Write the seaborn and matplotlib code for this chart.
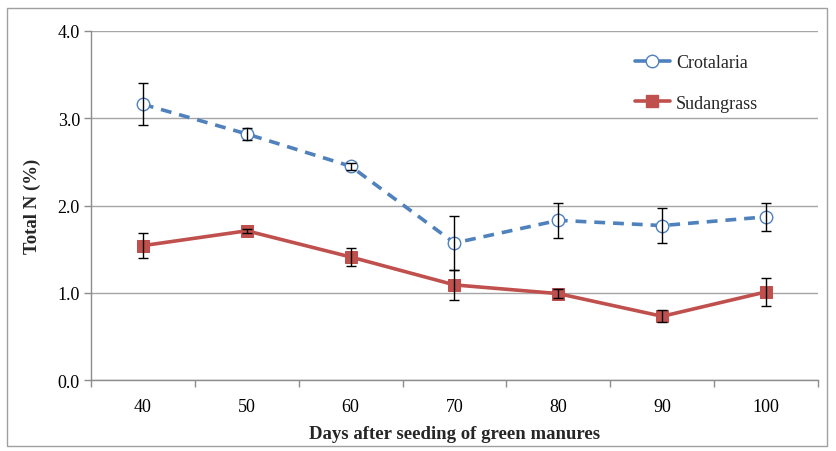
import matplotlib
matplotlib.use("Agg")
import matplotlib.pyplot as plt
import seaborn as sns
import pandas as pd
import numpy as np
from matplotlib.patches import Rectangle
from matplotlib.lines import Line2D

days = ["40", "50", "60", "70", "80", "90", "100"]
crotalaria = [3.16, 2.82, 2.45, 1.57, 1.83, 1.77, 1.87]
crotalaria_err = [0.24, 0.07, 0.04, 0.31, 0.20, 0.20, 0.16]
sudangrass = [1.54, 1.71, 1.41, 1.09, 0.99, 0.73, 1.01]
sudangrass_err = [0.14, 0.02, 0.10, 0.17, 0.05, 0.07, 0.16]

sns.set_theme(style="white")
plt.rcParams['font.family'] = ['Liberation Serif', 'DejaVu Serif']

blue = "#4F81BD"
red = "#C0504D"

pos = np.arange(len(days))
df = pd.DataFrame({
    "pos": np.concatenate([pos, pos]),
    "val": crotalaria + sudangrass,
    "series": ["Crotalaria"] * len(days) + ["Sudangrass"] * len(days),
})

fig = plt.figure(figsize=(8.37, 4.52), dpi=100)
ax = fig.add_axes([91/837, 1-381/452, (818-91)/837, (381-32)/452])

sns.lineplot(data=df[df.series == "Crotalaria"], x="pos", y="val", ax=ax,
             color=blue, linewidth=2.6, linestyle=(0, (3, 2.2)),
             marker="o", markersize=9, markerfacecolor="white",
             markeredgecolor=blue, markeredgewidth=1.0, legend=False, zorder=3)
sns.lineplot(data=df[df.series == "Sudangrass"], x="pos", y="val", ax=ax,
             color=red, linewidth=2.6,
             marker="s", markersize=8, markerfacecolor=red,
             markeredgecolor=red, legend=False, zorder=3)

ax.errorbar(pos, crotalaria, yerr=crotalaria_err, fmt="none", ecolor="black",
            elinewidth=1.0, capsize=3.5, capthick=1.0, zorder=4)
ax.errorbar(pos, sudangrass, yerr=sudangrass_err, fmt="none", ecolor="black",
            elinewidth=1.0, capsize=3.5, capthick=1.0, zorder=4)

ax.set_xlim(-0.5, len(days) - 0.5)
ax.set_ylim(0, 4.0)
ax.set_yticks([0, 1, 2, 3, 4])
ax.set_yticklabels(["0.0", "1.0", "2.0", "3.0", "4.0"], fontsize=13)
ax.set_xticks(pos)
ax.set_xticklabels(days, fontsize=13)
ax.set_xticks(np.arange(-0.5, len(days)), minor=True)
ax.tick_params(axis="x", which="major", length=0, pad=13)
ax.tick_params(axis="x", which="minor", length=5, color="#8c8c8c", width=1, direction="out", bottom=True)
ax.tick_params(axis="y", length=5, color="#8c8c8c", width=1, direction="out", left=True, pad=3)
for lab in ax.get_xticklabels() + ax.get_yticklabels():
    lab.set_color("black")

ax.grid(axis="y", color="#a6a6a6", linewidth=1.0)
ax.grid(axis="x", visible=False)
ax.set_axisbelow(True)
for s in ["top", "right"]:
    ax.spines[s].set_visible(False)
for s in ["left", "bottom"]:
    ax.spines[s].set_color("#8c8c8c")
    ax.spines[s].set_linewidth(1.0)

ax.set_xlabel("Days after seeding of green manures", fontsize=13.5, fontweight="bold", labelpad=7)
ax.set_ylabel("Total N (%)", fontsize=13.5, fontweight="bold", labelpad=12)

handles = [
    Line2D([], [], color=blue, linewidth=2.6, marker="o", markersize=9,
           markerfacecolor="white", markeredgecolor=blue, markeredgewidth=1.0),
    Line2D([], [], color=red, linewidth=2.6, marker="s", markersize=8,
           markerfacecolor=red, markeredgecolor=red),
]
leg = ax.legend(handles, ["Crotalaria", "Sudangrass"], loc="upper left",
                bbox_to_anchor=((619-91)/727, 1-(39-32)/349),
                frameon=False, fontsize=13, handlelength=1.9, labelspacing=1.3,
                handletextpad=0.35)

fig.patches.append(Rectangle((7/837, 1-447/452), (827-7)/837, (447-9)/452,
                             transform=fig.transFigure, fill=False,
                             edgecolor="#a0a0a0", linewidth=1.0))

fig.savefig("out.png", dpi=100)
